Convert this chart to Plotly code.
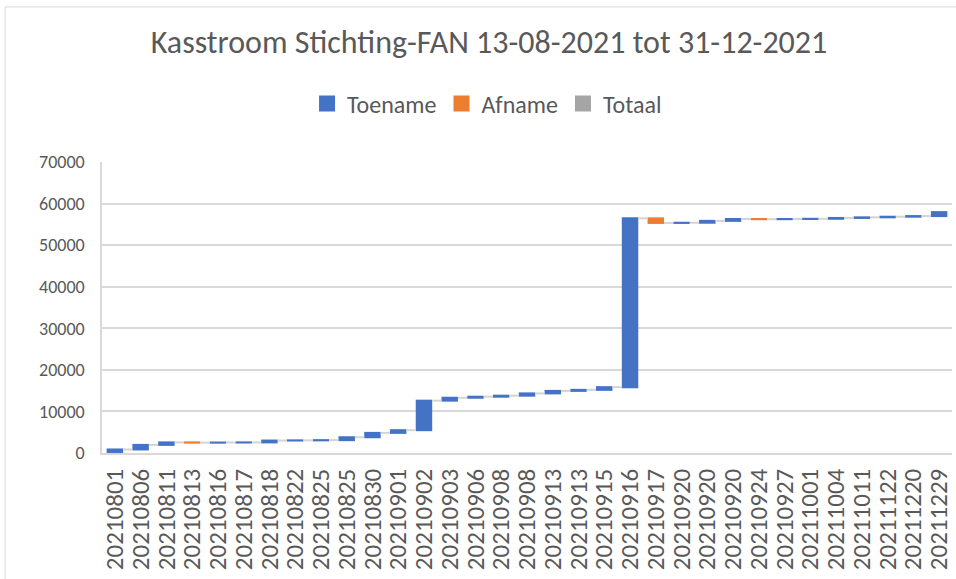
import plotly.graph_objects as go

# Data
dates = ["20210801", "20210806", "20210811", "20210813", "20210816", "20210817",
         "20210818", "20210822", "20210825", "20210825", "20210830", "20210901",
         "20210902", "20210903", "20210906", "20210908", "20210908", "20210913",
         "20210913", "20210915", "20210916", "20210917", "20210920", "20210920",
         "20210920", "20210924", "20210927", "20211001", "20211004", "20211011",
         "20211122", "20211220", "20211229"]
changes = [850, 1100, 600, -60, 30, 30,
           450, 40, 50, 700, 1050, 650,
           7100, 700, 250, 250, 550, 600,
           250, 650, 40600, -1100, 50, 450,
           450, -50, 50, 50, 200, 150,
           150, 150, 950]
legend_names = ["Toename", "Afname", "Totaal"]
legend_colors = ["#4472C4", "#ED7D31", "#A5A5A5"]
y_ticks = [0, 10000, 20000, 30000, 40000, 50000, 60000, 70000]

FONT = "Carlito, Lato, sans-serif"
TXT = "#595959"

positions = list(range(len(dates)))

fig = go.Figure()
fig.add_trace(go.Waterfall(
    x=positions, y=changes, measure=["relative"] * len(changes),
    increasing=dict(marker=dict(color=legend_colors[0])),
    decreasing=dict(marker=dict(color=legend_colors[1])),
    totals=dict(marker=dict(color=legend_colors[2])),
    connector=dict(mode="between", line=dict(color="#D4D4D4", width=2)),
    showlegend=False, hoverinfo="x+y",
))
for name, col in zip(legend_names, legend_colors):
    fig.add_trace(go.Scatter(x=[None], y=[None], name=name, mode="markers",
                             marker=dict(symbol="square", size=16, color=col)))

fig.update_layout(
    width=956, height=579,
    paper_bgcolor="white", plot_bgcolor="white",
    margin=dict(l=102, r=2, t=162, b=126),
    waterfallgap=0.36,
    title=dict(text="Kasstroom Stichting-FAN 13-08-2021 tot 31-12-2021",
               x=0.5115, xanchor="center", y=0.927, yanchor="middle",
               font=dict(family=FONT, size=32, color=TXT)),
    legend=dict(orientation="h", x=0.453, xanchor="center", y=1.2, yanchor="middle",
                font=dict(family=FONT, size=24, color=TXT), itemwidth=30,
                traceorder="normal"),
    xaxis=dict(tickmode="array", tickvals=positions, ticktext=dates,
               range=[-0.5, len(dates) - 0.5], tickangle=-90,
               tickfont=dict(family=FONT, size=25, color=TXT),
               showgrid=False, showline=True, linecolor="#D9D9D9", linewidth=1.5,
               ticks="", zeroline=False, ticklabelstandoff=4,
               ticklabeloverflow="allow"),
    yaxis=dict(range=[0, 70000], tickvals=y_ticks, tickformat="d",
               tickfont=dict(family=FONT, size=18, color=TXT),
               showgrid=True, gridcolor="#D9D9D9", gridwidth=1.5,
               showline=True, linecolor="#D9D9D9", linewidth=1.5,
               zeroline=False, ticks="", ticklabelstandoff=12),
    shapes=[
        dict(type="line", xref="paper", yref="paper", x0=-0.114, x1=1.05,
             y0=1.533, y1=1.533, line=dict(color="#D9D9D9", width=1)),
        dict(type="line", xref="paper", yref="paper", x0=-0.114, x1=-0.114,
             y0=1.533, y1=-0.5, line=dict(color="#D9D9D9", width=1)),
    ],
)

fig.write_html("out.html", config={"displayModeBar": False},
               post_script="document.body.style.margin='0';document.body.style.overflow='hidden';")
